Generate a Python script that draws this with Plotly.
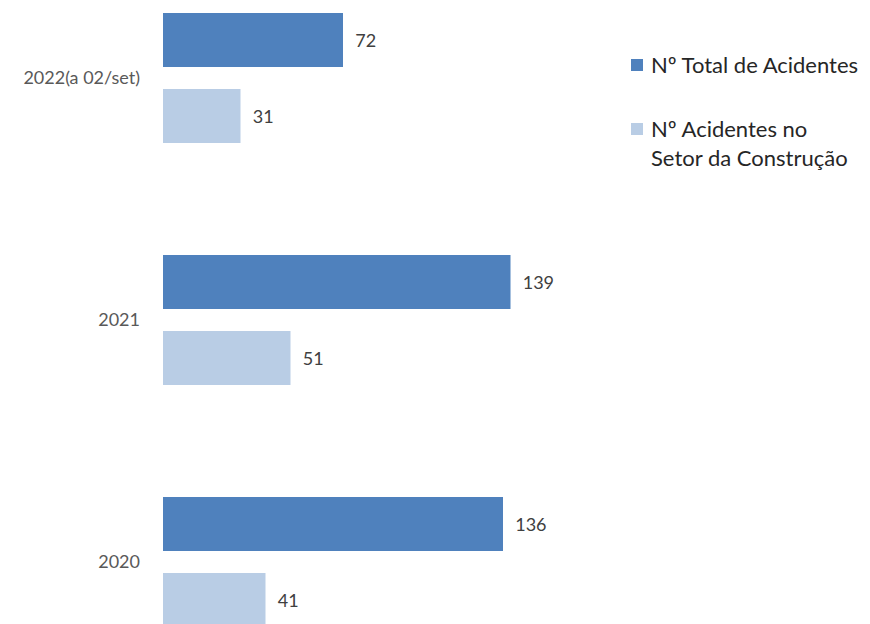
import plotly.graph_objects as go

# Accident counts per year
years = ["2022(a 02/set)", "2021", "2020"]
total_acidentes = [72, 139, 136]
acidentes_construcao = [31, 51, 41]
series_names = ["Nº Total de Acidentes", "Nº Acidentes no<br>Setor da Construção"]
series_colors = ["#4F81BD", "#B9CDE5"]

W, H = 870, 624
LEFT = 163
FONT = "Lato"

fig = go.Figure()
for name, vals, col in zip(series_names, [total_acidentes, acidentes_construcao], series_colors):
    fig.add_trace(go.Bar(
        y=years, x=vals, orientation="h", name=name,
        marker=dict(color=col, line=dict(width=0)),
        text=vals, texttemplate="\u00a0\u00a0%{x}", textposition="outside",
        textfont=dict(family=FONT, size=18, color="#404040"),
        cliponaxis=False, showlegend=False,
    ))

# manual legend (px -> paper coordinates)
def px_x(p):
    return (p - LEFT) / (W - LEFT)

def px_y(p):
    return 1 - p / H

legend_rows = [(65, series_names[0]), (129, series_names[1])]
for (yc, name), col in zip(legend_rows, series_colors):
    fig.add_shape(type="rect", xref="paper", yref="paper",
                  x0=px_x(631), x1=px_x(643), y0=px_y(yc - 6), y1=px_y(yc + 6),
                  fillcolor=col, line=dict(width=0))
    fig.add_annotation(xref="paper", yref="paper", x=px_x(649), y=px_y(yc - 16),
                       xanchor="left", yanchor="top", align="left", showarrow=False,
                       text=name, font=dict(family=FONT, size=22, color="#262626"))

fig.update_layout(
    width=W, height=H,
    margin=dict(l=LEFT, r=0, t=0, b=0),
    paper_bgcolor="white", plot_bgcolor="white",
    barmode="group", bargap=0.372, bargroupgap=0.289,
    xaxis=dict(range=[0, (W - LEFT) / 2.5], showgrid=False, zeroline=False,
               showticklabels=False, showline=False),
    yaxis=dict(type="category", categoryorder="array", categoryarray=years,
               range=[2.2562, -0.3223], showgrid=False, zeroline=False, showline=False,
               ticks="", ticklabelstandoff=22,
               tickfont=dict(family=FONT, size=18, color="#595959")),
)

fig.write_html("out.html")
